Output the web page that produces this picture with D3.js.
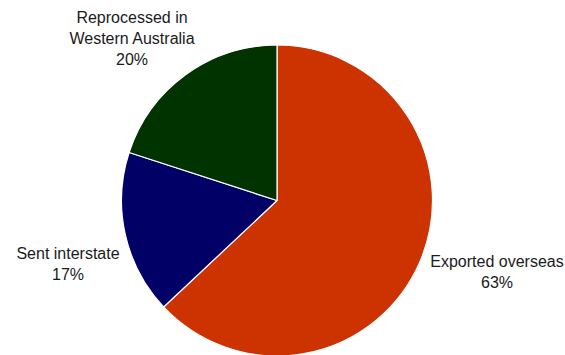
<!DOCTYPE html>
<html>
<head>
<meta charset="utf-8">
<script src="https://cdn.jsdelivr.net/npm/d3@7/dist/d3.min.js"></script>
<style>
  html, body { margin: 0; padding: 0; background: #fff; }
  svg { display: block; }
  text { font-family: "Liberation Sans", Arial, sans-serif; font-size: 16px; fill: #1a1a1a; }
</style>
</head>
<body>
<svg id="chart" width="565" height="355"></svg>
<script>
// Destination of material, share of total (%)
const categories = ["Exported overseas", "Sent interstate", "Reprocessed in Western Australia"];
const shares = [63, 17, 20];
const labelLines = [
  ["Exported overseas", "63%"],
  ["Sent interstate", "17%"],
  ["Reprocessed in", "Western Australia", "20%"]
];
const colors = ["#cc3300", "#000066", "#003300"];

const width = 565, height = 355;
const cx = 277, cy = 200.5, radius = 155.5;

const svg = d3.select("#chart");
const g = svg.append("g").attr("transform", `translate(${cx},${cy})`);

const data = categories.map((c, i) => ({ name: c, value: shares[i], lines: labelLines[i], color: colors[i] }));

const pie = d3.pie().value(d => d.value).sort(null);
const arc = d3.arc().innerRadius(0).outerRadius(radius);
const arcs = pie(data);

g.selectAll("path")
  .data(arcs)
  .join("path")
  .attr("d", arc)
  .attr("fill", d => d.data.color)
  .attr("stroke", "#fff")
  .attr("stroke-width", 1.2)
  .attr("stroke-linejoin", "round");

// Label anchors (first-line baseline), placed outside the pie
const labelPos = [
  { x: 497, y: 267 },
  { x: 68, y: 259 },
  { x: 132, y: 23 }
];
const lineHeight = 21;

const labels = svg.append("g");
arcs.forEach((a, i) => {
  const t = labels.append("text")
    .attr("text-anchor", "middle")
    .attr("x", labelPos[i].x)
    .attr("y", labelPos[i].y);
  a.data.lines.forEach((ln, j) => {
    t.append("tspan")
      .attr("x", labelPos[i].x)
      .attr("dy", j === 0 ? 0 : lineHeight)
      .text(ln);
  });
});
</script>
</body>
</html>
